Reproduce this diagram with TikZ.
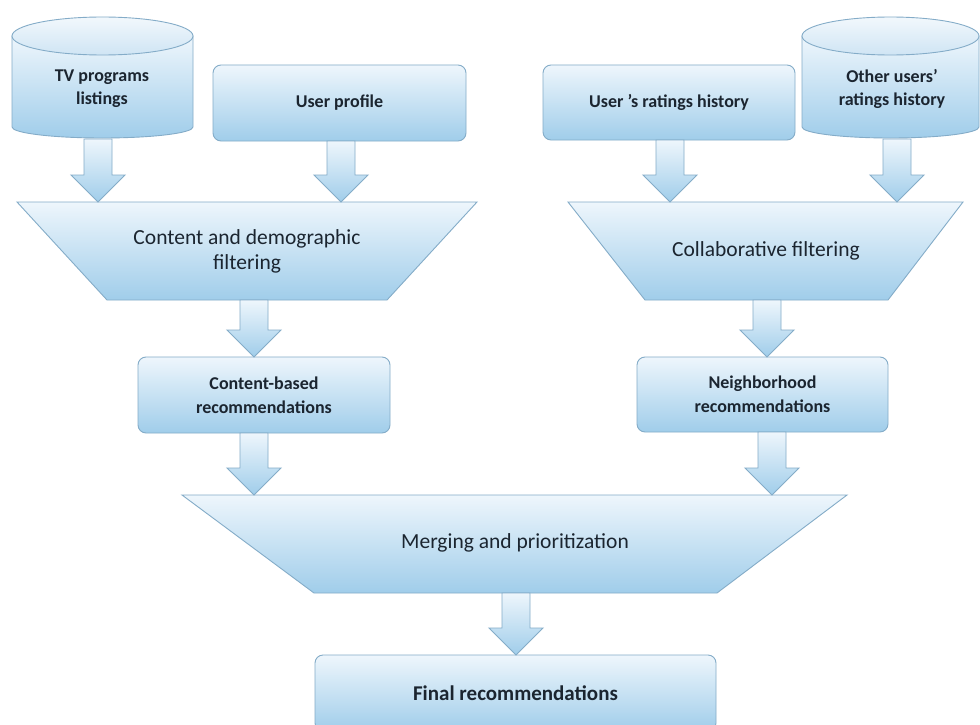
\documentclass[tikz,border=0pt]{standalone}
\usepackage{fontspec}
\setmainfont{Carlito}
\usetikzlibrary{calc}
\definecolor{fillTop}{HTML}{EEF6FC}
\definecolor{fillBot}{HTML}{A0CDEA}
\definecolor{faceTop}{HTML}{F2F8FC}
\definecolor{faceBot}{HTML}{CFE5F4}
\definecolor{edge}{HTML}{84ACC8}
\definecolor{txt}{HTML}{1B2530}
\tikzset{
  shapefill/.style={draw=edge, line width=0.9pt, top color=fillTop, bottom color=fillBot},
  facefill/.style={draw=edge, line width=0.9pt, top color=faceTop, bottom color=faceBot},
  roundbox/.style={shapefill, rounded corners=8pt, inner sep=0pt},
  boxtext/.style={font=\bfseries\fontsize{18}{24}\selectfont, text=txt, align=center},
  cyltext/.style={font=\bfseries\fontsize{18}{23}\selectfont, text=txt, align=center},
  traptext/.style={font=\fontsize{21.5}{25}\selectfont, text=txt, align=center},
  blockarrow/.style={shapefill, to path={let \p1=(\tikztostart), \p2=(\tikztotarget) in
    ({\x1-14pt},\y1) -- ({\x1+14pt},\y1) -- ({\x1+14pt},{\y2+27pt}) -- ({\x1+27pt},{\y2+27pt})
    -- (\x1,\y2) -- ({\x1-27pt},{\y2+27pt}) -- ({\x1-14pt},{\y2+27pt}) -- cycle}}
}
\begin{document}
\begin{tikzpicture}[x=1pt,y=-1pt]
\useasboundingbox[fill=white] (0,0) rectangle (980,725);

% --- TV programs listings cylinder
\draw[shapefill] (12,36) -- (12,127) arc[start angle=180, end angle=0, x radius=90.5, y radius=11] -- (193,36) -- cycle;
\draw[facefill] (102.5,36) ellipse [x radius=90.5, y radius=19];
\node[cyltext] (tv) at (102,89) {TV programs\\listings};

% --- User profile
\node[roundbox, minimum width=253pt, minimum height=76pt, boxtext] (up) at (339.5,103) {User profile};

% --- User's ratings history
\node[roundbox, minimum width=252pt, minimum height=75pt, boxtext] (urh) at (669,102.5) {User 's ratings history};

% --- Other users' ratings history cylinder
\draw[shapefill] (802,36) -- (802,127) arc[start angle=180, end angle=0, x radius=88.5, y radius=11] -- (979,36) -- cycle;
\draw[facefill] (890.5,36) ellipse [x radius=88.5, y radius=19];
\node[cyltext] (our) at (892,89) {Other users'\\ratings history};

% --- Trapezoid: content and demographic filtering
\draw[shapefill] (17,202) -- (477,202) -- (387,300) -- (107,300) -- cycle;
\node[traptext] (cdf) at (247,251) {Content and demographic\\filtering};

% --- Trapezoid: collaborative filtering
\draw[shapefill] (568,202) -- (963,202) -- (888,300) -- (645,300) -- cycle;
\node[traptext] (cf) at (766,251) {Collaborative filtering};

% --- Content-based recommendations
\node[roundbox, minimum width=252pt, minimum height=76pt, boxtext] (cbr) at (264,395) {Content-based\\recommendations};

% --- Neighborhood recommendations
\node[roundbox, minimum width=251pt, minimum height=75pt, boxtext] (nr) at (762.5,394.5) {Neighborhood\\recommendations};

% --- Merging trapezoid
\draw[shapefill] (182,495) -- (847,495) -- (717,593) -- (314,593) -- cycle;
\node[traptext] (mp) at (515,543) {Merging and prioritization};

% --- Final recommendations
\node[roundbox, minimum width=401pt, minimum height=76pt, font=\bfseries\fontsize{21}{24}\selectfont, text=txt] (fr) at (515.5,693) {Final recommendations};

% --- arrow end points
\coordinate (tvout) at (98,139);
\coordinate (cdfin1) at (98,202);
\coordinate (upout) at (341,141);
\coordinate (cdfin2) at (341,202);
\coordinate (urhout) at (670,140);
\coordinate (cfin1) at (670,202);
\coordinate (ourout) at (897,139);
\coordinate (cfin2) at (897,202);
\coordinate (cdfout) at (254,300);
\coordinate (cbrin) at (254,357);
\coordinate (cfout) at (767,300);
\coordinate (nrin) at (767,357);
\coordinate (cbrout) at (254,433);
\coordinate (mpin1) at (254,495);
\coordinate (nrout) at (772,432);
\coordinate (mpin2) at (772,495);
\coordinate (mpout) at (516,593);
\coordinate (frin) at (516,655);

\draw[blockarrow] (tvout) to (cdfin1);
\draw[blockarrow] (upout) to (cdfin2);
\draw[blockarrow] (urhout) to (cfin1);
\draw[blockarrow] (ourout) to (cfin2);
\draw[blockarrow] (cdfout) to (cbrin);
\draw[blockarrow] (cfout) to (nrin);
\draw[blockarrow] (cbrout) to (mpin1);
\draw[blockarrow] (nrout) to (mpin2);
\draw[blockarrow] (mpout) to (frin);
\end{tikzpicture}
\end{document}
